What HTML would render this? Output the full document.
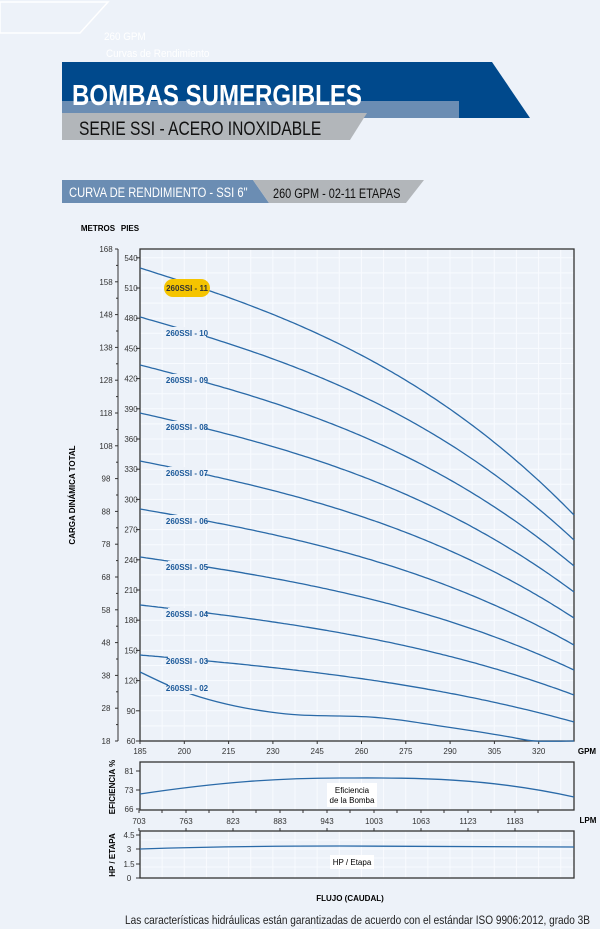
<!DOCTYPE html>
<html><head><meta charset="utf-8"><style>
body{margin:0;width:600px;height:929px;background:#edf2f9;overflow:hidden;font-family:"Liberation Sans",sans-serif}
svg{position:absolute;left:0;top:0}
</style></head><body>
<svg id="s" width="600" height="929" viewBox="0 0 600 929" xmlns="http://www.w3.org/2000/svg" font-family="Liberation Sans, sans-serif">
<polygon points="0,2 108,2 80,33 0,33" fill="none" stroke="#fff" stroke-width="1.5"/>
<text x="104" y="40" font-size="11" fill="#fff" transform="scale(0.9,1)" style="transform-origin:104px 40px">260 GPM</text>
<text x="106" y="57" font-size="11" fill="#fff" transform="scale(0.9,1)" style="transform-origin:106px 57px">Curvas de Rendimiento</text>
<polygon points="62,62 492,62 530,118 62,118" fill="#00498c"/>
<rect x="62" y="101" width="397" height="17" fill="#6b8db3"/>
<polygon points="62,113 367,113 350,140 62,140" fill="#b2b6ba"/>
<text x="72" y="105" font-size="29" font-weight="bold" fill="#fff" transform="scale(0.83,1)" style="transform-origin:72px 105px">BOMBAS SUMERGIBLES</text>
<text x="79" y="135" font-size="19" fill="#111" transform="scale(0.82,1)" style="transform-origin:79px 135px">SERIE SSI - ACERO INOXIDABLE</text>
<polygon points="62,180 253,180 269,203 62,203" fill="#6b8db3"/>
<polygon points="253,180 424,180 406,203 269,203" fill="#b2b6ba"/>
<text x="69" y="197" font-size="14" fill="#fff" transform="scale(0.8,1)" style="transform-origin:69px 197px">CURVA DE RENDIMIENTO - SSI 6"</text>
<text x="273" y="198" font-size="14" fill="#111" transform="scale(0.78,1)" style="transform-origin:273px 198px">260 GPM - 02-11 ETAPAS</text>
<g id="g"></g>
<text x="98" y="231" font-size="8" font-weight="bold" text-anchor="middle">METROS</text>
<text x="130" y="231" font-size="8" font-weight="bold" text-anchor="middle">PIES</text>
<text x="75" y="495" font-size="8" font-weight="bold" text-anchor="middle" transform="rotate(-90 75 495)">CARGA DINÁMICA TOTAL</text>
<text x="587" y="754" font-size="8" font-weight="bold" text-anchor="middle">GPM</text>
<text x="588" y="823" font-size="8" font-weight="bold" text-anchor="middle">LPM</text>
<text x="115" y="787" font-size="8" font-weight="bold" text-anchor="middle" transform="rotate(-90 115 787)">EFICIENCIA %</text>
<text x="115" y="855" font-size="8" font-weight="bold" text-anchor="middle" transform="rotate(-90 115 855)">HP / ETAPA</text>
<text x="350" y="901" font-size="8" font-weight="bold" text-anchor="middle">FLUJO (CAUDAL)</text>
<text x="590" y="924" font-size="12" text-anchor="end" fill="#222" transform="scale(0.84,1)" style="transform-origin:590px 924px">Las características hidráulicas están garantizadas de acuerdo con el estándar ISO 9906:2012, grado 3B</text>
</svg>
<script>
const g=document.getElementById('g');let h='';
const L=140,R=574,T=249,B=741;
for(let i=0;i<=19;i++){let x=L+i*(R-L)/19.6;h+=`<line x1="${x}" y1="${T}" x2="${x}" y2="${B}" stroke="#f8fbff" stroke-width="1"/>`;}
for(let i=0;i<=32;i++){let y=B-i*15.1;if(y>T)h+=`<line x1="${L}" y1="${y}" x2="${R}" y2="${y}" stroke="#f8fbff" stroke-width="1"/>`;}
h+=`<rect x="${L}" y="${T}" width="${R-L}" height="${B-T}" fill="none" stroke="#333" stroke-width="1.3"/>`;
for(let i=0;i<=16;i++){let y=B-i*30.2;h+=`<text x="131" y="${y+3}" font-size="8" text-anchor="middle" fill="#333">${60+30*i}</text><line x1="136" y1="${y}" x2="140" y2="${y}" stroke="#333"/>`;}
h+=`<line x1="118" y1="249" x2="118" y2="741" stroke="#333"/>`;
for(let i=0;i<=15;i++){let y=B-i*32.8;h+=`<text x="106" y="${y+3}" font-size="8" text-anchor="middle" fill="#333">${18+10*i}</text><line x1="115" y1="${y}" x2="118" y2="${y}" stroke="#333"/>`;
 if(i<15){let y2=y-16.4;h+=`<line x1="116" y1="${y2}" x2="118" y2="${y2}" stroke="#333"/>`;}}
for(let i=0;i<=9;i++){let x=L+i*44.3;h+=`<text x="${x}" y="754" font-size="8" text-anchor="middle" fill="#333">${185+15*i}</text><line x1="${x}" y1="741" x2="${x}" y2="744" stroke="#333"/>`;}
function f(t){return 0.55*t+0.1*t*t+0.35*t*t*t;}
const cs=[[268,515],[317,540],[365,566],[413,592],[461,618],[509,645],[557,670],[605,695],[655,722]];
cs.forEach((c,k)=>{let p=[];for(let x=L;x<=R;x+=3){let t=(x-L)/(R-L);p.push(x+','+(c[0]+(c[1]-c[0])*f(t)).toFixed(1));}
 p.push(R+','+c[1]);h+=`<polyline points="${p.join(' ')}" fill="none" stroke="#2a6aa8" stroke-width="1.3"/>`;});
const q=[[140,672],[170,686],[200,697],[235,706],[270,712],[300,715],[340,716],[370,717],[400,720],[440,726],[480,732],[510,737],[535,741],[574,741]];
let d=`M${q[0][0]},${q[0][1]}`;
for(let i=0;i<q.length-1;i++){let p0=q[Math.max(0,i-1)],p1=q[i],p2=q[i+1],p3=q[Math.min(q.length-1,i+2)];
 d+=` C${p1[0]+(p2[0]-p0[0])/6},${p1[1]+(p2[1]-p0[1])/6} ${p2[0]-(p3[0]-p1[0])/6},${p2[1]-(p3[1]-p1[1])/6} ${p2[0]},${p2[1]}`;}
h+=`<path d="${d}" fill="none" stroke="#2a6aa8" stroke-width="1.3"/>`;
const ly=[288,333,380,427,473,521,567,614,661,688];
['11','10','09','08','07','06','05','04','03','02'].forEach((n,k)=>{let y=ly[k];
 if(k==0)h+=`<rect x="164" y="${y-9}" width="46" height="18" rx="9" fill="#f5c400"/>`;
 else h+=`<rect x="168" y="${y-6}" width="38" height="12" fill="#edf2f9"/>`;
 h+=`<text x="187" y="${y+3}" font-size="8" font-weight="bold" text-anchor="middle" fill="${k==0?'#333':'#1d5a9a'}">260SSI - ${n}</text>`;});
const E1=762,E2=810;
for(let i=0;i<=19;i++){let x=L+i*(R-L)/19.6;h+=`<line x1="${x}" y1="${E1}" x2="${x}" y2="${E2}" stroke="#f8fbff"/>`;}
h+=`<rect x="${L}" y="${E1}" width="${R-L}" height="${E2-E1}" fill="none" stroke="#333" stroke-width="1.3"/>`;
[[81,771],[73,790],[66,809]].forEach(v=>{h+=`<text x="129" y="${v[1]+3}" font-size="8" text-anchor="middle" fill="#333">${v[0]}</text><line x1="136" y1="${v[1]}" x2="140" y2="${v[1]}" stroke="#333"/>`;});
h+=`<path d="M140,794 C220,782 280,778 340,778 S480,776 574,797" fill="none" stroke="#2a6aa8" stroke-width="1.3"/>`;
h+=`<rect x="327" y="783" width="50" height="24" fill="#fff"/><text x="352" y="793" font-size="8" text-anchor="middle">Eficiencia</text><text x="352" y="803" font-size="8" text-anchor="middle">de la Bomba</text>`;
['703','763','823','883','943','1003','1063','1123','1183'].forEach((n,i)=>{let x=139+i*47;h+=`<text x="${x}" y="824" font-size="8" text-anchor="middle" fill="#333">${n}</text><line x1="${x}" y1="810" x2="${x}" y2="813" stroke="#333"/><line x1="${x+23}" y1="810" x2="${x+23}" y2="813" stroke="#333"/><line x1="${x}" y1="828" x2="${x}" y2="831" stroke="#333"/>`;});
const H1=831,H2=878;
for(let i=0;i<=19;i++){let x=L+i*(R-L)/19.6;h+=`<line x1="${x}" y1="${H1}" x2="${x}" y2="${H2}" stroke="#f8fbff"/>`;}
for(let y of [840,849,858,867])h+=`<line x1="${L}" y1="${y}" x2="${R}" y2="${y}" stroke="#f8fbff"/>`;
h+=`<rect x="${L}" y="${H1}" width="${R-L}" height="${H2-H1}" fill="none" stroke="#333" stroke-width="1.3"/>`;
[['4.5',835],['3',849],['1.5',864],['0',878]].forEach(v=>{h+=`<text x="129" y="${v[1]+3}" font-size="8" text-anchor="middle" fill="#333">${v[0]}</text><line x1="136" y1="${v[1]}" x2="140" y2="${v[1]}" stroke="#333"/>`;});
h+=`<path d="M140,849 C200,847 260,846 340,846 S500,846 574,847" fill="none" stroke="#2a6aa8" stroke-width="1.3"/>`;
h+=`<rect x="330" y="855" width="44" height="14" fill="#fff"/><text x="352" y="865" font-size="8" text-anchor="middle">HP / Etapa</text>`;
g.innerHTML=h;
</script>
</body></html>
